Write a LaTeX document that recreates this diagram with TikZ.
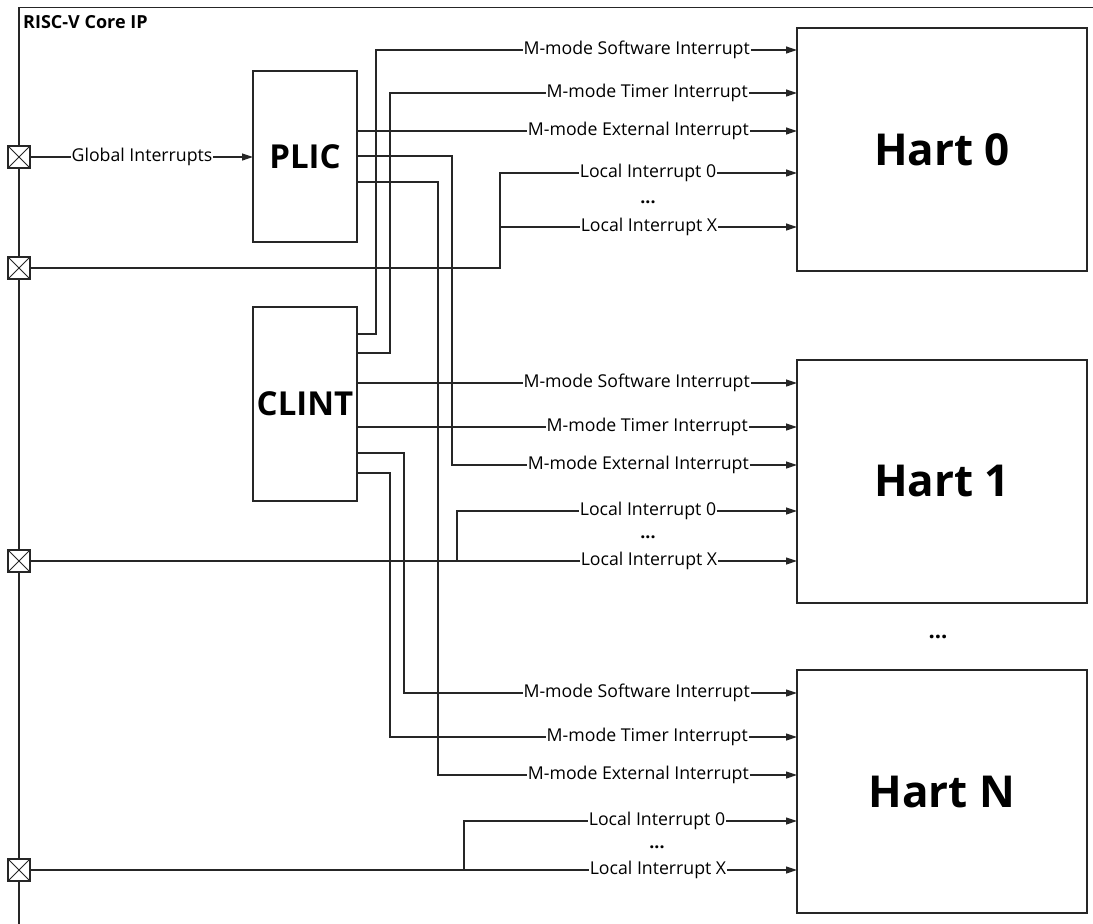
\documentclass[tikz,border=0pt]{standalone}
\usepackage{fontspec}
\setmainfont{Open Sans}
\usetikzlibrary{arrows.meta}
\tikzset{
  wire/.style={line width=1.2pt, draw=black!85},
  arr/.style={wire, -{Triangle[length=11pt,width=7pt]}},
  lab/.style={fill=white, inner sep=1pt, font=\fontsize{17.7}{20}\selectfont},
  labr/.style={lab, anchor=east},
  dotsl/.style={inner sep=0pt, font=\bfseries\fontsize{17.7}{20}\selectfont},
  blk/.style={draw=black!85, line width=1.2pt, inner sep=0pt, outer sep=0pt, minimum width=104pt, font=\bfseries\fontsize{33}{36}\selectfont},
  hart/.style={draw=black!85, line width=1.2pt, inner sep=0pt, outer sep=0pt, minimum width=290pt, minimum height=243pt, font=\bfseries\fontsize{44}{48}\selectfont},
  port/.style={draw=black!85, fill=white, line width=1.2pt, minimum size=22pt, inner sep=0pt, outer sep=0pt,
    path picture={\draw[line width=0.9pt] (path picture bounding box.north west) -- (path picture bounding box.south east)
      (path picture bounding box.north east) -- (path picture bounding box.south west);}}
}
\begin{document}
\begin{tikzpicture}[x=1pt,y=-1pt]
\useasboundingbox (0,0) rectangle (1093,924);
% frame
\draw[wire] (19,924) -- (19,7.5) -- (1093,7.5);
\node[anchor=base west, inner sep=0pt, font=\bfseries\fontsize{18}{20}\selectfont] (title) at (23,28.5) {RISC-V Core IP};

% blocks
\node[blk, minimum height=171pt] (plic) at (305,156.5) {PLIC};
\node[blk, minimum height=194pt] (clint) at (305,404) {CLINT};
\node[hart] (h0) at (942,149.5) {Hart 0};
\node[hart] (h1) at (942,481.5) {Hart 1};
\node[hart] (hN) at (942,791.5) {Hart N};
\node[inner sep=0pt, font=\bfseries\fontsize{22}{24}\selectfont] (hdots) at (938,637) {...};

% ports
\node[port] (p1) at (19,157) {};
\node[port] (p2) at (19,268) {};
\node[port] (p3) at (19,561) {};
\node[port] (p4) at (19,870) {};

% global interrupts
\draw[arr] (p1.east) -- (plic.west|-p1.east);

% PLIC outputs
\draw[arr] (plic.east|-0,131) -- (h0.west|-0,131);
\draw[arr] (plic.east|-0,156) -| (452,465) -- (h1.west|-0,465);
\draw[arr] (plic.east|-0,182) -| (438,775) -- (hN.west|-0,775);

% CLINT outputs
\draw[arr] (clint.east|-0,334) -| (376,50) -- (h0.west|-0,50);
\draw[arr] (clint.east|-0,353) -| (390,93) -- (h0.west|-0,93);
\draw[arr] (clint.east|-0,383) -- (h1.west|-0,383);
\draw[arr] (clint.east|-0,427) -- (h1.west|-0,427);
\draw[arr] (clint.east|-0,453) -| (404,693) -- (hN.west|-0,693);
\draw[arr] (clint.east|-0,473) -| (390,737) -- (hN.west|-0,737);

% local interrupts
\coordinate (j0) at (500,227);
\coordinate (j1) at (457,561);
\coordinate (j2) at (464,870);
\draw[arr] (p2.east) -| (500,173) -- (h0.west|-0,173);
\draw[arr] (j0) -- (h0.west|-j0);
\draw[arr] (p3.east) -- (h1.west|-p3.east);
\draw[arr] (j1) |- (h1.west|-0,511);
\draw[arr] (p4.east) -- (hN.west|-p4.east);
\draw[arr] (j2) |- (hN.west|-0,821);

% labels
\node[lab] (lg) at (142,157) {Global Interrupts};
\foreach \n/\ys/\yt/\ye/\yl/\yd/\yx/\cx in {a/50/93/131/173/202/227/648, b/383/427/465/511/537/561/648, c/693/737/775/821/847/870/657}{
  \node[labr] (sw\n) at (751,\ys) {M-mode Software Interrupt};
  \node[labr] (tm\n) at (749,\yt) {M-mode Timer Interrupt};
  \node[labr] (ex\n) at (750,\ye) {M-mode External Interrupt};
  \node[lab] (l0\n) at (\cx,\yl) {Local Interrupt 0};
  \node[dotsl] (ld\n) at (\cx,\yd) {...};
  \node[lab] (lx\n) at (\cx+1,\yx) {Local Interrupt X};
}
\end{tikzpicture}
\end{document}
